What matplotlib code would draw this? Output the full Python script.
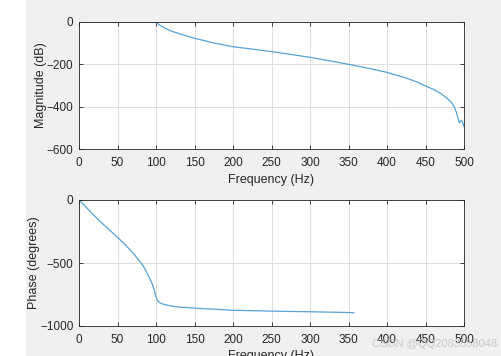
import numpy as np
import matplotlib
matplotlib.use('Agg')
import matplotlib.pyplot as plt
from matplotlib.patches import Rectangle

plt.rcParams['font.family'] = ['Liberation Sans', 'DejaVu Sans']

# magnitude response (dB)
mag_f = [0, 50, 100, 101, 103, 105, 110, 115, 120, 130, 140, 150, 165, 175,
         190, 200, 225, 250, 275, 300, 325, 350, 375, 400, 425, 440, 450,
         460, 470, 478, 483, 487, 490, 492, 494, 495.5, 497.5, 500]
mag_db = [0, 0, 0, -4, -10, -15, -26, -35, -43, -55, -66, -77, -90, -99,
          -110, -117, -128, -140, -153, -167, -183, -200, -218, -238, -265,
          -285, -302, -318, -338, -360, -378, -398, -425, -452, -476, -468,
          -466, -495]

# phase response (degrees)
ph_f = [0, 10, 20, 30, 40, 50, 60, 70, 80, 85, 90, 95, 98, 100, 102, 105,
        110, 120, 130, 150, 200, 250, 300, 350, 357]
ph_deg = [0, -62, -125, -185, -240, -295, -355, -420, -495, -540, -600, -665,
          -720, -770, -800, -815, -828, -842, -850, -858, -875, -882, -887,
          -893, -895]

line_col = '#55a3d8'
bg = '#f0f0f0'
txt = '#262626'

fig = plt.figure(figsize=(5.01, 3.56), dpi=100, facecolor=bg)
fig.patches.append(Rectangle((0, 0), 26 / 501, 1, transform=fig.transFigure,
                             facecolor='white', edgecolor='none', zorder=0))

W, H = 501, 356
ax1 = fig.add_axes([79 / W, 1 - 149 / H, (464 - 79) / W, (149 - 22) / H])
ax2 = fig.add_axes([79 / W, 1 - 326 / H, (464 - 79) / W, (326 - 200) / H])


def style(ax):
    ax.set_facecolor('white')
    ax.grid(True, color='#dcdcdc', linewidth=0.7)
    ax.set_axisbelow(True)
    ax.tick_params(direction='in', top=True, right=True, labelsize=8.5,
                   colors=txt, length=3, width=0.6)
    ax.tick_params(axis='x', pad=6)
    ax.tick_params(axis='y', pad=4)
    for s in ax.spines.values():
        s.set_color(txt)
        s.set_linewidth(0.6)
    ax.set_xlim(0, 500)
    ax.set_xticks(np.arange(0, 501, 50))


ax1.plot(mag_f, mag_db, color=line_col, linewidth=0.9)
style(ax1)
ax1.set_ylim(-600, 0)
ax1.set_yticks([-600, -400, -200, 0])
ax1.set_xlabel('Frequency (Hz)', fontsize=9, color=txt, labelpad=3)
ax1.set_ylabel('Magnitude (dB)', fontsize=9, color=txt, labelpad=0)

ax2.plot(ph_f, ph_deg, color=line_col, linewidth=0.9)
style(ax2)
ax2.set_ylim(-1000, 0)
ax2.set_yticks([-1000, -500, 0])
ax2.set_xlabel('Frequency (Hz)', fontsize=9, color=txt, labelpad=3)
ax2.set_ylabel('Phase (degrees)', fontsize=9, color=txt, labelpad=0)

fig.text(0.993, 1 - 344 / H, 'CSDN @QQ2083558048', fontsize=8,
         color='#c4c4c4', alpha=0.9, ha='right', va='center')

fig.savefig('out.png', dpi=100, facecolor=bg)
